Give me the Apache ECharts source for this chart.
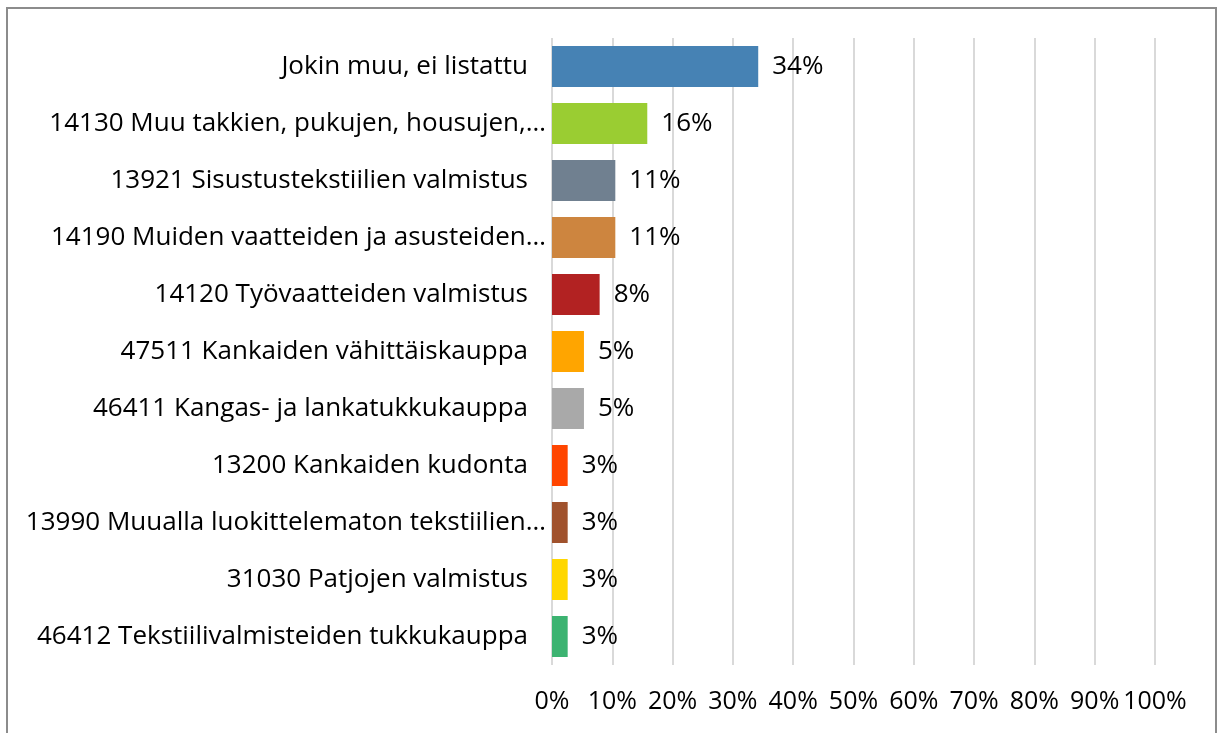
<!DOCTYPE html>
<html>
<head>
<meta charset="utf-8">
<script src="https://cdn.jsdelivr.net/npm/echarts@6/dist/echarts.min.js"></script>
<style>
  html, body { margin: 0; padding: 0; background: #fff; }
  #chart { width: 1222px; height: 733px; }
</style>
</head>
<body>
<div id="chart"></div>
<script>
// Toimialat (category labels as shown, truncated ones with ellipsis)
var categories = [
  'Jokin muu, ei listattu',
  '14130 Muu takkien, pukujen, housujen,…',
  '13921 Sisustustekstiilien valmistus',
  '14190 Muiden vaatteiden ja asusteiden…',
  '14120 Työvaatteiden valmistus',
  '47511 Kankaiden vähittäiskauppa',
  '46411 Kangas- ja lankatukkukauppa',
  '13200 Kankaiden kudonta',
  '13990 Muualla luokittelematon tekstiilien…',
  '31030 Patjojen valmistus',
  '46412 Tekstiilivalmisteiden tukkukauppa'
];
var shares = [34.2, 15.8, 10.5, 10.5, 7.9, 5.3, 5.3, 2.6, 2.6, 2.6, 2.6];
var barColors = ['#4682B4', '#9ACD32', '#708090', '#CD853F', '#B22222', '#FFA500',
  '#A9A9A9', '#FF4500', '#A0522D', '#FFD700', '#3CB371'];
var xTicks = [0, 10, 20, 30, 40, 50, 60, 70, 80, 90, 100];

var FONT = 'Open Sans';
var FS = 26;
var chart = echarts.init(document.getElementById('chart'));

chart.setOption({
  animation: false,
  textStyle: { fontFamily: FONT, color: '#000' },
  grid: { left: 552, right: 67, top: 38, bottom: 68 },
  graphic: [{
    type: 'rect',
    shape: { x: 7, y: 8, width: 1209, height: 760 },
    style: { fill: 'none', stroke: '#8c8c8c', lineWidth: 2 },
    silent: true
  }],
  xAxis: {
    type: 'value', min: xTicks[0], max: xTicks[xTicks.length - 1], interval: 10,
    axisLine: { show: false }, axisTick: { show: false },
    splitLine: { lineStyle: { color: '#d9d9d9', width: 2 } },
    axisLabel: { fontFamily: FONT, fontSize: 25, color: '#000', margin: 24, formatter: '{value}%' }
  },
  yAxis: {
    type: 'category', data: categories, inverse: true,
    axisLine: { show: false }, axisTick: { show: false },
    axisLabel: {
      margin: 6,
      formatter: function (v) {
        return v.slice(-1) === '…' ? '{t|' + v + '}' : '{n|' + v + '}';
      },
      rich: {
        t: { fontFamily: FONT, fontSize: FS, color: '#000' },
        n: { fontFamily: FONT, fontSize: FS, color: '#000', padding: [0, 18, 0, 0] }
      }
    }
  },
  series: [{
    type: 'bar',
    barCategoryGap: '28%',
    data: shares.map(function (v, i) {
      return { value: v, itemStyle: { color: barColors[i] } };
    }),
    label: {
      show: true, position: 'right', distance: 14,
      fontFamily: FONT, fontSize: FS, color: '#000',
      formatter: function (p) { return Math.round(p.value) + '%'; }
    }
  }]
});
</script>
</body>
</html>
